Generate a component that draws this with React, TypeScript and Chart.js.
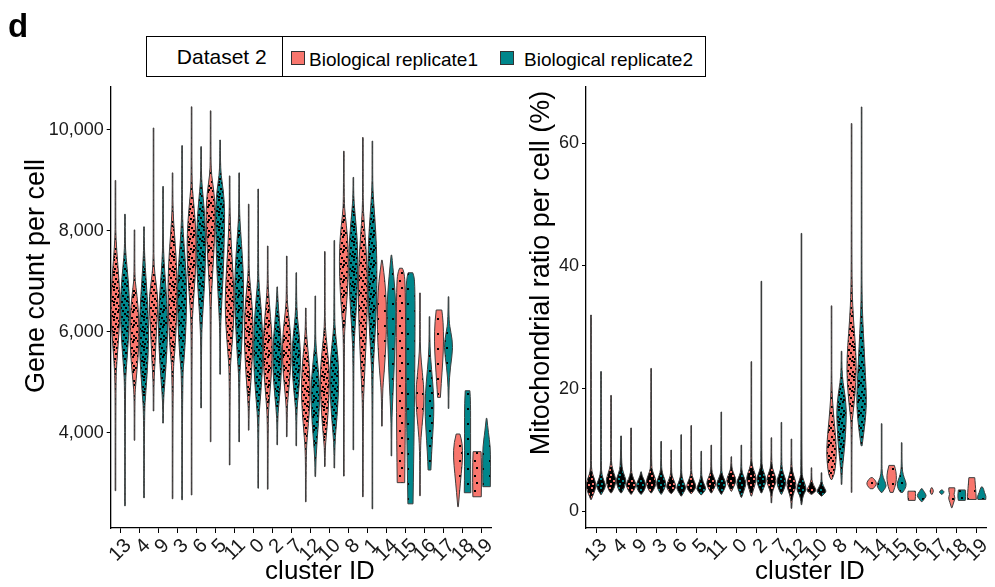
import React, { useEffect, useRef } from "react";
import { Chart, registerables } from "chart.js";
Chart.register(...registerables);

const FONT = "'Liberation Sans', Arial, Helvetica, sans-serif";

const clusters = ["13", "4", "9", "3", "6", "5", "11", "0", "2", "7", "12", "10", "8", "1", "14", "15", "16", "17", "18", "19"];
const replicates = ["Biological replicate1", "Biological replicate2"];
const geneTicks = [4000, 6000, 8000, 10000];
const mitoTicks = [0, 20, 40, 60];

// Violin profiles: [value, relative half-width] from bottom to top, one per cluster
const geneRep1: number[][][] = [
  [[2850, .03], [5000, .05], [5400, .3], [5900, .7], [6400, 1], [6900, .85], [7400, .45], [7850, .1], [8200, .04], [9000, .03]],
  [[3850, .03], [4700, .05], [5000, .3], [5500, .8], [6000, 1], [6500, .8], [6900, .3], [7100, .06], [8020, .03]],
  [[4430, .03], [5000, .06], [5500, .4], [6000, .6], [6600, 1], [7000, .5], [7300, .1], [7800, .05], [10040, .03]],
  [[2690, .03], [5200, .05], [5600, .5], [6300, .9], [7000, 1], [7600, .7], [8200, .2], [8600, .05], [9150, .03]],
  [[2765, .03], [6000, .04], [6500, .3], [7100, .8], [7700, 1], [8200, .8], [8700, .3], [9000, .06], [10460, .03]],
  [[3820, .03], [6200, .04], [6800, .2], [7400, .6], [8000, .9], [8400, 1], [8800, .7], [9100, .2], [9400, .05], [10380, .03]],
  [[3360, .03], [5200, .05], [5600, .4], [6100, .8], [6600, 1], [7200, .7], [7800, .3], [8400, .08], [8800, .04], [9090, .03]],
  [[4050, .03], [4500, .06], [4900, .4], [5500, .8], [6100, 1], [6700, .6], [7100, .15], [7400, .05], [8530, .03]],
  [[2880, .03], [4300, .05], [4700, .4], [5300, .9], [5800, 1], [6300, .6], [6800, .15], [7100, .05], [7700, .03]],
  [[3920, .03], [4500, .06], [4900, .5], [5500, 1], [6000, .8], [6400, .3], [6700, .05], [7500, .03]],
  [[2630, .03], [3600, .05], [4000, .4], [4700, 1], [5300, .8], [5800, .3], [6100, .05], [6470, .03]],
  [[3330, .03], [3700, .06], [4100, .5], [4700, .9], [5200, 1], [5700, .5], [6100, .08], [6500, .04], [7590, .03]],
  [[3140, .03], [5800, .04], [6200, .3], [6800, .8], [7400, 1], [7900, .8], [8300, .3], [8600, .06], [9580, .03]],
  [[2730, .03], [4500, .05], [5000, .3], [5800, .7], [6600, 1], [7300, .9], [7900, .5], [8400, .1], [8800, .04], [9850, .03]],
  [[4130, .03], [4800, .1], [5200, .5], [5800, .9], [6300, 1], [6800, .85], [7200, .4], [7420, .03]],
  [[3010, .8], [3800, .9], [5000, 1], [6200, 1], [7000, .9], [7200, .6], [7260, .3]],
  [[2750, .03], [3700, .05], [4100, .4], [4700, 1], [5200, .5], [5600, .1], [6000, .04], [6770, .03]],
  [[4700, .3], [5000, .5], [5400, .8], [5800, 1], [6200, .9], [6432, .6]],
  [[2533, .05], [2800, .3], [3200, .7], [3500, 1], [3800, .9], [3974, .4]],
  [[2730, .9], [3000, .95], [3400, .95], [3624, .85]],
];
const geneRep2: number[][][] = [
  [[2550, .03], [4900, .05], [5300, .3], [5900, .8], [6500, 1], [7000, .75], [7500, .2], [7800, .05], [8330, .03]],
  [[2710, .03], [4400, .05], [4800, .4], [5500, .9], [6100, 1], [6700, .7], [7300, .25], [7700, .05], [8080, .03]],
  [[4190, .03], [4600, .06], [5000, .4], [5700, .9], [6300, 1], [6900, .6], [7400, .2], [7800, .05], [8880, .03]],
  [[2670, .03], [5100, .05], [5500, .5], [6200, .9], [6900, 1], [7400, .7], [8000, .2], [8500, .05], [9690, .03]],
  [[4490, .03], [5800, .05], [6300, .3], [7000, .8], [7700, 1], [8300, .8], [8800, .3], [9100, .06], [9670, .03]],
  [[5160, .03], [6000, .04], [6400, .25], [7200, .7], [7900, .9], [8400, 1], [8800, .7], [9100, .2], [9400, .05], [9800, .03]],
  [[3820, .03], [5100, .05], [5500, .4], [6200, .8], [6900, 1], [7500, .7], [8000, .3], [8400, .06], [9150, .03]],
  [[2900, .03], [4200, .05], [4600, .4], [5200, .9], [5800, 1], [6400, .7], [6900, .2], [7200, .05], [8830, .03]],
  [[3760, .03], [4300, .05], [4700, .5], [5300, 1], [5900, .8], [6400, .3], [6800, .05], [6890, .03]],
  [[3740, .03], [4400, .05], [4800, .5], [5400, 1], [5900, .7], [6300, .2], [6700, .05], [7170, .03]],
  [[3130, .03], [3500, .1], [4200, .7], [4800, 1], [5300, .6], [5700, .15], [6000, .05], [6710, .03]],
  [[3300, .03], [3800, .08], [4300, .6], [5000, 1], [5500, .8], [6000, .2], [6300, .05], [7810, .03]],
  [[3660, .03], [5500, .04], [6000, .3], [6700, .8], [7400, 1], [7900, .8], [8400, .3], [8700, .06], [9060, .03]],
  [[2490, .03], [5000, .05], [5500, .3], [6300, .8], [7000, 1], [7700, .9], [8300, .5], [8800, .1], [9200, .04], [9780, .03]],
  [[3540, .03], [4200, .06], [4700, .3], [5300, .6], [5900, .8], [6400, 1], [6900, .7], [7300, .3], [7520, .03]],
  [[2590, .55], [3500, .7], [4500, .85], [5500, .95], [6500, 1], [7050, .9], [7170, .5]],
  [[3260, .3], [3600, .45], [4100, .8], [4550, 1], [5000, .7], [5500, .2], [5900, .05], [6300, .03]],
  [[4480, .03], [4900, .06], [5300, .4], [5700, 1], [6000, .5], [6200, .1], [6695, .03]],
  [[2810, .7], [3300, .65], [4000, .65], [4600, .65], [4832, .5]],
  [[2930, .8], [3400, .85], [3723, .8], [4000, .4], [4285, .05]],
];
const mitoRep1: number[][][] = [
  [[1.95, .05], [2.8, .5], [3.8, .95], [4.5, 1], [5.5, .6], [6.5, .15], [8, .04], [32, .02]],
  [[3, .05], [3.5, .5], [4.5, .9], [5.2, 1], [6.2, .6], [7.5, .12], [9, .04], [18.9, .02]],
  [[2.8, .05], [3.3, .5], [4, .9], [4.5, 1], [5.3, .5], [6.3, .1], [7.5, .03], [13.6, .02]],
  [[3, .05], [3.6, .6], [4.5, 1], [5.3, .9], [6.5, .3], [7.5, .06], [23.3, .02]],
  [[2.9, .05], [3.3, .5], [4, 1], [4.8, .7], [5.8, .15], [7, .04], [10, .02]],
  [[2.9, .05], [3.3, .5], [4, 1], [4.8, .7], [5.8, .15], [7, .04], [14, .02]],
  [[3, .05], [3.6, .5], [4.5, 1], [5.3, .7], [6.3, .15], [7.5, .04], [10.8, .02]],
  [[3.3, .05], [4, .5], [5, 1], [5.8, .7], [6.8, .15], [8, .04], [8.9, .02]],
  [[2.5, .05], [3.5, .4], [4.5, .8], [5.5, 1], [6.5, .6], [7.5, .15], [9, .04], [24.4, .02]],
  [[1.4, .03], [3, .1], [4, .6], [5, 1], [6, .7], [7, .2], [8.5, .04], [12, .02]],
  [[0.5, .03], [2, .1], [3.3, .6], [4.3, 1], [5.3, .7], [6.5, .2], [8, .04], [11.8, .02]],
  [[2.8, .1], [3.1, .6], [3.5, 1], [4, .6], [4.8, .15], [5.5, .05], [7.1, .02]],
  [[5.2, .1], [6, .6], [8, .9], [10, 1], [12.5, .8], [15, .5], [18, .2], [21, .06], [25, .03], [33.5, .02]],
  [[3.1, .02], [14, .03], [16, .3], [19, .7], [23, 1], [27, .8], [31, .4], [36, .1], [45, .04], [63.2, .02]],
  [[3.7, .3], [4.2, .9], [4.7, 1], [5.2, .6], [5.5, .2]],
  [[3.1, .3], [4, .7], [5.2, 1], [6.5, .9], [7.5, .55]],
  [[1.8, .7], [2.5, .8], [3.3, .75]],
  [[2.8, .1], [3.2, .35], [3.5, .3], [3.85, .1]],
  [[0.6, .05], [1.5, .4], [2.2, .7], [2.8, .4], [3.3, .65], [3.85, .6]],
  [[1.95, .9], [3, .85], [4.5, .7], [5.5, .6]],
];
const mitoRep2: number[][][] = [
  [[2.77, .05], [3.3, .5], [4.2, 1], [5, .6], [6, .15], [7.5, .04], [22.8, .02]],
  [[3, .05], [3.5, .5], [4.5, .9], [5.2, 1], [6.2, .5], [7.5, .1], [12.3, .02]],
  [[2.8, .05], [3.3, .6], [4.2, 1], [5, .7], [5.8, .2], [6.45, .05]],
  [[2.8, .05], [3.5, .6], [4.5, 1], [5.3, .7], [6.3, .2], [7.5, .04], [11.4, .02]],
  [[2.5, .05], [3.1, .5], [3.8, 1], [4.6, .6], [5.6, .15], [7, .04], [12.5, .02]],
  [[2.7, .05], [3.1, .5], [3.7, 1], [4.4, .6], [5.4, .15], [6.5, .04], [9.8, .02]],
  [[2.8, .05], [3.4, .5], [4.3, 1], [5.1, .7], [6.1, .15], [7.2, .04], [16.2, .02]],
  [[2.3, .05], [3.3, .5], [4.5, 1], [5.3, .7], [6.3, .15], [7.5, .04], [10.8, .02]],
  [[3, .05], [3.8, .5], [5, 1], [6, .7], [7, .2], [8.5, .04], [37.5, .02]],
  [[2.8, .05], [3.5, .5], [4.8, 1], [5.8, .6], [6.8, .15], [8.5, .04], [14.5, .02]],
  [[1.1, .03], [2.2, .2], [3, .6], [3.6, 1], [4.5, .7], [5.5, .25], [6.5, .05], [45.3, .02]],
  [[2.5, .05], [2.9, .6], [3.3, 1], [3.8, .6], [4.6, .15], [5.2, .05], [6.3, .02]],
  [[4.4, .05], [6, .1], [8, .3], [11, .7], [14, .9], [16.5, 1], [19, .7], [21, .3], [23, .08], [26.1, .02]],
  [[10.7, .1], [13, .5], [16, .9], [18.5, 1], [22, .8], [27, .5], [31, .25], [35, .08], [45, .03], [65.9, .02]],
  [[3.1, .1], [3.6, .6], [4.2, 1], [5, .6], [6, .1], [8, .03], [14.3, .02]],
  [[3.1, .2], [3.6, .7], [4.5, 1], [5.5, .5], [6.5, .15], [8, .04], [11.2, .02]],
  [[1.6, .1], [2.1, .6], [2.6, 1], [3.2, .5], [3.7, .1]],
  [[2.8, .1], [3.1, .5], [3.3, .4], [3.5, .1]],
  [[1.8, .7], [2.5, .85], [3.5, .7]],
  [[1.95, .8], [2.5, .9], [3.1, .5], [3.6, .4], [4, .1]],
];
// How crowded the jittered cells look inside each violin (0 few, 1 many, 2 packed)
const geneDotLevel = [1, 1, 1, 1, 1, 1, 1, 1, 1, 1, 1, 1, 1, 1, 0, 0, 0, 0, 0, 0];
const mitoDotLevel = [2, 2, 2, 2, 2, 2, 2, 2, 2, 2, 2, 2, 1, 1, 0, 0, 0, 0, 0, 0];

const COLORS = ["#F8766D", "#00868B"];
const dotsFew = [[2, 3], [9, 10], [11, 2]];
const dotsMany = [[1, 1], [6, 0], [11, 2], [3, 4], [8, 4], [13, 5], [0, 7], [5, 7], [10, 8], [2, 10], [7, 11], [12, 11], [4, 13], [9, 13], [13, 9], [8, 1]];
const holesPacked = [[1, 1], [5, 3], [2, 6], [7, 7]];

function addSmooth(path: Path2D, pts: number[][], first: boolean) {
  if (first) path.moveTo(pts[0][0], pts[0][1]);
  else path.lineTo(pts[0][0], pts[0][1]);
  for (let i = 1; i < pts.length - 1; i++) {
    const mx = (pts[i][0] + pts[i + 1][0]) / 2;
    const my = (pts[i][1] + pts[i + 1][1]) / 2;
    path.quadraticCurveTo(pts[i][0], pts[i][1], mx, my);
  }
  path.lineTo(pts[pts.length - 1][0], pts[pts.length - 1][1]);
}

function makeViolinPlugin(series: number[][][][], levels: number[], patterns: (CanvasPattern | null)[]) {
  return {
    id: "violins",
    afterDatasetsDraw(chart: any) {
      const { ctx, scales } = chart;
      const x = scales.x, y = scales.y;
      const slot = (x.getPixelForValue(1) - x.getPixelForValue(0)) / 2;
      const half = slot * 0.49;
      ctx.save();
      series.forEach((profiles, si) => {
        const shift = (si - 0.5) * slot;
        profiles.forEach((prof, ci) => {
          const cx = x.getPixelForValue(ci) + shift;
          const rightPts = prof.map(([v, w]) => [cx + Math.max(w * half, 0.3), y.getPixelForValue(v)]);
          const leftPts = prof.map(([v, w]) => [cx - Math.max(w * half, 0.3), y.getPixelForValue(v)]).reverse();
          const path = new Path2D();
          addSmooth(path, rightPts, true);
          addSmooth(path, leftPts, false);
          path.closePath();
          ctx.fillStyle = COLORS[si];
          ctx.fill(path);
          const pattern = patterns[levels[ci]];
          if (pattern) {
            ctx.save();
            ctx.clip(path);
            ctx.fillStyle = pattern;
            const top = y.getPixelForValue(prof[prof.length - 1][0]);
            const bottom = y.getPixelForValue(prof[0][0]);
            ctx.fillRect(cx - half - 2, top - 2, half * 2 + 4, bottom - top + 4);
            ctx.restore();
          }
          ctx.strokeStyle = "#3d3d3d";
          ctx.lineWidth = 1;
          ctx.stroke(path);
        });
      });
      ctx.restore();
    },
  };
}

function makeTitlePlugin(xTitle: string, xCenter: number, xBase: number, yTitle: string, yBaseX: number, yCenter: number) {
  return {
    id: "titles",
    afterDraw(chart: any) {
      const ctx = chart.ctx;
      ctx.save();
      ctx.fillStyle = "#000";
      ctx.textAlign = "center";
      ctx.textBaseline = "alphabetic";
      ctx.font = `26px ${FONT}`;
      ctx.fillText(xTitle, xCenter, xBase);
      ctx.translate(yBaseX, yCenter);
      ctx.rotate(-Math.PI / 2);
      ctx.font = `27px ${FONT}`;
      ctx.fillText(yTitle, 0, 0);
      ctx.restore();
    },
  };
}

function buildConfig(opts: {
  series: number[][][][];
  levels: number[];
  yMin: number; yMax: number; yTicks: number[];
  fmt: (v: number) => string;
  yWidth: number; padRight: number;
  patterns: (CanvasPattern | null)[];
  titles: any;
}) {
  const { series, levels, yMin, yMax, yTicks, fmt, yWidth, padRight, patterns, titles } = opts;
  return {
    type: "line" as const,
    data: {
      labels: clusters,
      datasets: series.map((profiles, si) => ({
        label: replicates[si],
        data: profiles.map((p) => p[p.length - 1][0]),
        showLine: false,
        pointRadius: 0,
        borderColor: COLORS[si],
        backgroundColor: COLORS[si],
      })),
    },
    options: {
      animation: false as const,
      responsive: false,
      devicePixelRatio: 1,
      events: [],
      layout: { padding: { top: 86.7, right: padRight, left: 0, bottom: 0 } },
      plugins: { legend: { display: false }, tooltip: { enabled: false }, title: { display: false } },
      scales: {
        x: {
          type: "category" as const,
          offset: true,
          grid: { display: true, drawOnChartArea: false, drawTicks: true, tickLength: 5, color: "#000", lineWidth: 1 },
          border: { display: true, color: "#000", width: 1.3 },
          ticks: {
            autoSkip: false, minRotation: 45, maxRotation: 45, padding: 1, labelOffset: 8,
            color: "#1a1a1a", font: { size: 20, family: FONT },
          },
          afterFit: (s: any) => { s.height = 59; },
        },
        y: {
          type: "linear" as const,
          min: yMin, max: yMax,
          grid: { display: true, drawOnChartArea: false, drawTicks: true, tickLength: 4, color: "#000", lineWidth: 1 },
          border: { display: true, color: "#000", width: 1.3 },
          afterBuildTicks: (s: any) => { s.ticks = yTicks.map((v) => ({ value: v })); },
          ticks: { color: "#1a1a1a", padding: 3, font: { size: 18, family: FONT }, callback: (v: any) => fmt(Number(v)) },
          afterFit: (s: any) => { s.width = yWidth; },
        },
      },
    },
    plugins: [makeViolinPlugin(series, levels, patterns), titles],
  };
}

export default function App() {
  const leftRef = useRef<HTMLCanvasElement>(null);
  const rightRef = useRef<HTMLCanvasElement>(null);

  useEffect(() => {
    const makePattern = (size: number, dots: number[][], packed: boolean) => {
      const c = document.createElement("canvas");
      c.width = size; c.height = size;
      const g = c.getContext("2d")!;
      g.fillStyle = "#000";
      if (packed) {
        g.fillRect(0, 0, size, size);
        dots.forEach(([a, b]) => g.clearRect(a, b, 2, 2));
      } else {
        dots.forEach(([a, b]) => g.fillRect(a, b, 2, 2));
      }
      return g.createPattern(c, "repeat");
    };
    const patterns = [makePattern(15, dotsFew, false), makePattern(15, dotsMany, false), makePattern(9, holesPacked, true)];
    const left = new Chart(leftRef.current!, buildConfig({
      series: [geneRep1, geneRep2], levels: geneDotLevel, yMin: 2111, yMax: 10858, yTicks: geneTicks,
      fmt: (v) => v.toLocaleString("en-US"), yWidth: 110.7, padRight: 8, patterns,
      titles: makeTitlePlugin("cluster ID", 320, 579.3, "Gene count per cell", 44, 276),
    }) as any);
    const right = new Chart(rightRef.current!, buildConfig({
      series: [mitoRep1, mitoRep2], levels: mitoDotLevel, yMin: -2.7, yMax: 69.2, yTicks: mitoTicks,
      fmt: (v) => String(v), yWidth: 86, padRight: 8, patterns,
      titles: makeTitlePlugin("cluster ID", 310, 579.3, "Mitochondrial ratio per cell (%)", 49.3, 273),
    }) as any);
    return () => { left.destroy(); right.destroy(); };
  }, []);

  const txt = (extra: React.CSSProperties): React.CSSProperties => ({
    position: "absolute", fontFamily: FONT, color: "#000", whiteSpace: "nowrap", ...extra,
  });

  return (
    <div style={{ position: "absolute", left: 0, top: 0, width: 995, height: 587, background: "#fff", overflow: "hidden" }}>
      <canvas ref={leftRef} width={500} height={587} style={{ position: "absolute", left: 0, top: 0, display: "block" }} />
      <canvas ref={rightRef} width={495} height={587} style={{ position: "absolute", left: 500, top: 0, display: "block" }} />
      <div style={txt({ left: 8, top: 9, fontSize: 33, lineHeight: "33px", fontWeight: "bold" })}>d</div>
      <div style={{ position: "absolute", left: 146, top: 36, width: 560, height: 41, border: "1px solid #000", boxSizing: "border-box", background: "#fff" }} />
      <div style={{ position: "absolute", left: 282, top: 36, width: 1, height: 41, background: "#000" }} />
      <div style={txt({ left: 146, width: 120.7, textAlign: "right", top: 46.2, fontSize: 21, lineHeight: "21px" })}>Dataset 2</div>
      <div style={{ position: "absolute", left: 290.7, top: 51.3, width: 14, height: 14, background: COLORS[0], border: "1px solid #333", boxSizing: "border-box" }} />
      <div style={txt({ left: 309, top: 49.9, fontSize: 19, lineHeight: "19px" })}>{replicates[0]}</div>
      <div style={{ position: "absolute", left: 500, top: 51.3, width: 14, height: 14, background: COLORS[1], border: "1px solid #333", boxSizing: "border-box" }} />
      <div style={txt({ left: 524, top: 49.9, fontSize: 19, lineHeight: "19px" })}>{replicates[1]}</div>
    </div>
  );
}
